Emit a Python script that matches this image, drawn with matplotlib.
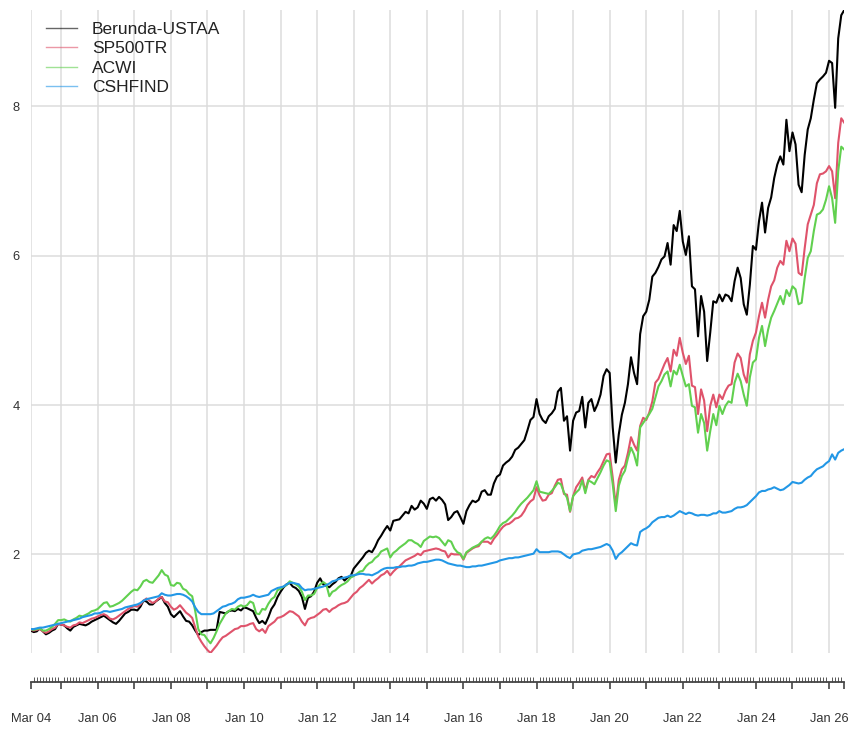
import numpy as np
import pandas as pd
import matplotlib
matplotlib.use("Agg")
import matplotlib.pyplot as plt

plt.rcParams['font.family'] = ['Liberation Sans', 'DejaVu Sans']

# monthly growth of 1, Mar 2004 .. Jun 2026 (one row per year)
berunda = [
    0.98, 0.96, 0.97, 1.01, 0.97, 0.93, 0.95, 0.98, 1.00, 1.07,
    1.06, 1.05, 1.01, 0.98, 1.03, 1.05, 1.07, 1.06, 1.05, 1.07, 1.10, 1.12,
    1.14, 1.16, 1.18, 1.15, 1.12, 1.09, 1.07, 1.11, 1.16, 1.21, 1.23, 1.26,
    1.26, 1.25, 1.30, 1.38, 1.37, 1.33, 1.33, 1.37, 1.40, 1.43, 1.35, 1.30,
    1.20, 1.16, 1.20, 1.24, 1.17, 1.11, 1.10, 1.05, 0.98, 0.92, 0.96, 0.98,
    0.98, 0.99, 0.99, 0.99, 1.23, 1.22, 1.21, 1.24, 1.25, 1.24, 1.27, 1.25,
    1.29, 1.28, 1.26, 1.24, 1.15, 1.08, 1.11, 1.07, 1.16, 1.27, 1.33, 1.43,
    1.50, 1.56, 1.60, 1.62, 1.57, 1.55, 1.51, 1.43, 1.27, 1.42, 1.44, 1.50,
    1.62, 1.68, 1.60, 1.58, 1.56, 1.60, 1.63, 1.68, 1.70, 1.65, 1.69, 1.71,
    1.81, 1.86, 1.91, 1.96, 2.02, 2.05, 2.03, 2.10, 2.19, 2.25, 2.32, 2.38,
    2.32, 2.45, 2.46, 2.47, 2.52, 2.57, 2.55, 2.65, 2.60, 2.63, 2.72, 2.68,
    2.61, 2.74, 2.76, 2.72, 2.77, 2.73, 2.67, 2.46, 2.50, 2.56, 2.58, 2.50,
    2.41, 2.58, 2.66, 2.72, 2.70, 2.73, 2.84, 2.86, 2.80, 2.80, 2.95, 3.04,
    3.07, 3.19, 3.23, 3.26, 3.31, 3.40, 3.43, 3.48, 3.53, 3.66, 3.80, 3.84,
    4.08, 3.88, 3.80, 3.76, 3.85, 3.89, 3.95, 4.18, 4.23, 3.79, 3.85, 3.39,
    3.79, 3.90, 3.92, 4.11, 3.70, 4.03, 4.08, 3.92, 4.01, 4.14, 4.39, 4.48,
    4.43, 3.70, 3.23, 3.61, 3.87, 4.03, 4.28, 4.64, 4.43, 4.28, 4.95, 5.19,
    5.25, 5.41, 5.72, 5.77, 5.85, 5.95, 5.99, 6.17, 5.88, 6.41, 6.33, 6.60,
    6.19, 6.01, 6.26, 5.59, 5.55, 4.92, 5.46, 5.25, 4.59, 4.97, 5.39, 5.37,
    5.48, 5.39, 5.48, 5.46, 5.39, 5.66, 5.84, 5.70, 5.35, 5.21, 5.61, 6.13,
    6.08, 6.46, 6.71, 6.31, 6.64, 6.78, 7.04, 7.22, 7.33, 7.22, 7.82, 7.40,
    7.65, 7.49, 6.95, 6.85, 7.35, 7.69, 7.84, 8.09, 8.31, 8.36, 8.40, 8.45,
    8.61, 8.58, 7.98, 8.91, 9.22, 9.29,
]

sp500tr = [
    0.99, 0.98, 0.99, 1.00, 0.97, 0.95, 0.97, 1.00, 1.02, 1.07,
    1.06, 1.05, 1.03, 1.02, 1.05, 1.06, 1.09, 1.08, 1.10, 1.12, 1.14, 1.15,
    1.17, 1.19, 1.20, 1.18, 1.14, 1.13, 1.15, 1.18, 1.21, 1.24, 1.27, 1.29,
    1.31, 1.30, 1.33, 1.38, 1.41, 1.38, 1.35, 1.37, 1.41, 1.43, 1.37, 1.36,
    1.30, 1.26, 1.28, 1.32, 1.27, 1.22, 1.19, 1.15, 1.02, 0.90, 0.83, 0.77,
    0.72, 0.68, 0.73, 0.78, 0.84, 0.89, 0.91, 0.94, 0.97, 1.00, 1.01, 1.04,
    1.04, 1.05, 1.07, 1.08, 1.00, 0.97, 1.00, 0.95, 1.04, 1.07, 1.10, 1.15,
    1.16, 1.18, 1.21, 1.24, 1.23, 1.20, 1.17, 1.10, 1.05, 1.13, 1.15, 1.16,
    1.19, 1.22, 1.26, 1.27, 1.23, 1.27, 1.29, 1.32, 1.34, 1.35, 1.37, 1.42,
    1.47, 1.50, 1.55, 1.58, 1.62, 1.66, 1.61, 1.65, 1.68, 1.72, 1.74, 1.78,
    1.72, 1.77, 1.81, 1.84, 1.88, 1.92, 1.94, 1.96, 1.98, 2.01, 1.99, 2.04,
    2.05, 2.06, 2.07, 2.08, 2.07, 2.05, 2.04, 1.96, 2.01, 2.00, 2.00, 2.00,
    1.93, 2.02, 2.05, 2.08, 2.10, 2.11, 2.17, 2.17, 2.17, 2.14, 2.21, 2.26,
    2.32, 2.37, 2.40, 2.41, 2.44, 2.48, 2.49, 2.52, 2.58, 2.66, 2.71, 2.74,
    2.90, 2.79, 2.72, 2.73, 2.80, 2.82, 2.92, 3.00, 3.01, 2.81, 2.80, 2.57,
    2.78, 2.90, 2.96, 3.03, 2.85, 3.00, 3.05, 3.03, 3.10, 3.16, 3.25, 3.34,
    3.35, 3.03, 2.65, 3.00, 3.14, 3.19, 3.36, 3.57, 3.47, 3.39, 3.72, 3.83,
    3.80, 3.90, 4.05, 4.30, 4.35, 4.45, 4.55, 4.63, 4.45, 4.74, 4.66, 4.90,
    4.70, 4.55, 4.66, 4.26, 4.24, 3.88, 4.21, 4.06, 3.65, 3.99, 4.14, 3.97,
    4.14, 4.08, 4.19, 4.26, 4.28, 4.57, 4.69, 4.63, 4.41, 4.30, 4.68, 4.86,
    4.97, 5.19, 5.37, 5.17, 5.41, 5.59, 5.67, 5.84, 5.93, 5.88, 6.20, 6.06,
    6.23, 6.16, 5.77, 5.74, 6.10, 6.42, 6.55, 6.68, 6.97, 7.09, 7.10, 7.13,
    7.20, 7.13, 6.77, 7.51, 7.84, 7.78,
]

acwi = [
    1.00, 0.99, 1.00, 1.01, 0.98, 0.98, 1.00, 1.03, 1.07, 1.12,
    1.12, 1.13, 1.11, 1.10, 1.13, 1.15, 1.18, 1.17, 1.19, 1.21, 1.24, 1.25,
    1.27, 1.31, 1.35, 1.36, 1.30, 1.31, 1.33, 1.35, 1.38, 1.42, 1.46, 1.50,
    1.53, 1.52, 1.57, 1.64, 1.66, 1.63, 1.62, 1.67, 1.72, 1.79, 1.73, 1.71,
    1.59, 1.58, 1.62, 1.61, 1.54, 1.52, 1.47, 1.44, 1.24, 1.00, 0.93, 0.92,
    0.86, 0.81, 0.88, 0.97, 1.07, 1.14, 1.21, 1.24, 1.27, 1.26, 1.30, 1.32,
    1.30, 1.32, 1.37, 1.35, 1.21, 1.20, 1.27, 1.26, 1.34, 1.40, 1.43, 1.52,
    1.54, 1.57, 1.59, 1.64, 1.62, 1.60, 1.57, 1.50, 1.39, 1.45, 1.45, 1.47,
    1.55, 1.60, 1.63, 1.60, 1.44, 1.50, 1.52, 1.56, 1.59, 1.61, 1.64, 1.69,
    1.71, 1.74, 1.77, 1.78, 1.84, 1.88, 1.90, 1.95, 1.98, 2.04, 2.06, 2.08,
    1.96, 2.02, 2.05, 2.09, 2.12, 2.15, 2.19, 2.19, 2.16, 2.14, 2.10, 2.18,
    2.21, 2.24, 2.23, 2.24, 2.22, 2.17, 2.12, 2.19, 2.17, 2.08, 2.03, 2.01,
    1.94, 2.03, 2.06, 2.09, 2.11, 2.13, 2.17, 2.21, 2.23, 2.21, 2.25, 2.31,
    2.38, 2.42, 2.44, 2.48, 2.52, 2.57, 2.63, 2.68, 2.72, 2.76, 2.81, 2.86,
    2.98, 2.84, 2.83, 2.82, 2.81, 2.85, 2.90, 2.96, 2.94, 2.83, 2.76, 2.58,
    2.78, 2.83, 2.87, 2.99, 2.82, 2.99, 2.97, 2.94, 3.02, 3.10, 3.19, 3.26,
    3.24, 2.94, 2.58, 2.92, 3.05, 3.12, 3.29, 3.43, 3.34, 3.19, 3.70, 3.76,
    3.82, 3.88, 3.95, 4.10, 4.25, 4.32, 4.41, 4.45, 4.25, 4.46, 4.41, 4.54,
    4.39, 4.25, 4.28, 3.99, 3.97, 3.63, 3.88, 3.76, 3.39, 3.65, 3.88, 3.73,
    3.99, 3.88, 3.99, 4.05, 4.03, 4.30, 4.42, 4.32, 4.14, 3.99, 4.37, 4.57,
    4.61, 4.90, 5.06, 4.79, 5.01, 5.17, 5.26, 5.36, 5.46, 5.35, 5.54, 5.46,
    5.59, 5.55, 5.35, 5.37, 5.70, 5.97, 6.06, 6.33, 6.55, 6.57, 6.62, 6.75,
    6.93, 6.77, 6.44, 7.13, 7.46, 7.42,
]

cshfind = [
    1.00, 1.00, 1.01, 1.02, 1.02, 1.03, 1.04, 1.05, 1.06, 1.07,
    1.08, 1.09, 1.10, 1.11, 1.12, 1.13, 1.14, 1.16, 1.17, 1.18, 1.19, 1.21,
    1.21, 1.22, 1.24, 1.24, 1.23, 1.24, 1.25, 1.26, 1.27, 1.29, 1.30, 1.31,
    1.32, 1.33, 1.35, 1.38, 1.40, 1.41, 1.42, 1.43, 1.44, 1.48, 1.46, 1.45,
    1.45, 1.46, 1.47, 1.47, 1.46, 1.44, 1.41, 1.37, 1.29, 1.23, 1.20, 1.20,
    1.20, 1.20, 1.21, 1.24, 1.27, 1.30, 1.31, 1.33, 1.34, 1.36, 1.40, 1.42,
    1.42, 1.43, 1.44, 1.46, 1.44, 1.43, 1.44, 1.45, 1.46, 1.51, 1.53, 1.55,
    1.56, 1.57, 1.60, 1.62, 1.62, 1.61, 1.60, 1.55, 1.52, 1.53, 1.53, 1.54,
    1.55, 1.56, 1.57, 1.59, 1.61, 1.64, 1.65, 1.67, 1.68, 1.69, 1.70, 1.72,
    1.72, 1.73, 1.74, 1.74, 1.73, 1.73, 1.72, 1.74, 1.76, 1.79, 1.81, 1.82,
    1.82, 1.82, 1.83, 1.83, 1.84, 1.84, 1.85, 1.85, 1.86, 1.88, 1.89, 1.90,
    1.90, 1.91, 1.92, 1.93, 1.93, 1.92, 1.90, 1.88, 1.87, 1.86, 1.85, 1.85,
    1.84, 1.83, 1.83, 1.84, 1.84, 1.85, 1.85, 1.86, 1.87, 1.88, 1.89, 1.90,
    1.92, 1.93, 1.94, 1.95, 1.95, 1.96, 1.96, 1.97, 1.98, 1.99, 2.00, 2.01,
    2.07, 2.03, 2.03, 2.03, 2.03, 2.04, 2.04, 2.04, 2.03, 2.00, 1.97, 1.95,
    2.00, 2.01, 2.02, 2.05, 2.06, 2.07, 2.07, 2.08, 2.09, 2.10, 2.12, 2.14,
    2.12, 2.05, 1.94, 2.00, 2.03, 2.07, 2.11, 2.15, 2.13, 2.12, 2.30, 2.33,
    2.35, 2.38, 2.43, 2.46, 2.49, 2.50, 2.50, 2.52, 2.50, 2.52, 2.55, 2.58,
    2.56, 2.54, 2.56, 2.55, 2.53, 2.52, 2.53, 2.53, 2.52, 2.53, 2.55, 2.55,
    2.58, 2.56, 2.56, 2.57, 2.58, 2.61, 2.63, 2.63, 2.64, 2.66, 2.70, 2.74,
    2.78, 2.83, 2.85, 2.85, 2.87, 2.88, 2.90, 2.88, 2.86, 2.87, 2.90, 2.93,
    2.97, 2.96, 2.95, 2.96, 3.00, 3.03, 3.05, 3.10, 3.14, 3.16, 3.18, 3.22,
    3.25, 3.34, 3.27, 3.36, 3.39, 3.41,
]

series_names = ['Berunda-USTAA', 'SP500TR', 'ACWI', 'CSHFIND']
series_colors = ['#000000', '#DF536B', '#61D04F', '#2297E6']
y_ticks = [2, 4, 6, 8]

dates = pd.date_range('2004-03-01', periods=len(berunda), freq='MS')
x = np.arange(len(dates))
all_series = [berunda, sp500tr, acwi, cshfind]

fig = plt.figure(figsize=(8.65, 7.34), dpi=100)
ax = fig.add_axes([30.7 / 865, 1 - 653 / 734, (844.3 - 30.7) / 865, 643 / 734])

for vals, name, col in zip(all_series, series_names, series_colors):
    ax.plot(x, vals, color=col, lw=1.5, label=name, zorder=3)

# xts-like axis: major tick at start, each January and the end
year_starts = [i for i, d in enumerate(dates) if d.month == 1]
major = [0] + year_starts + [len(x) - 1]
labels = []
for i in major:
    d = dates[i]
    if i == 0:
        labels.append(d.strftime('%b %y'))
    elif d.month == 1 and d.year % 2 == 0:
        labels.append(d.strftime('%b %y'))
    else:
        labels.append('')
ax.set_xticks(major)
ax.set_xticklabels(labels)
ax.set_xticks(x, minor=True)

lo = min(min(s) for s in all_series)
hi = max(max(s) for s in all_series)
ax.set_xlim(0, len(x) - 1)
ax.set_ylim(lo, hi)
ax.set_yticks(y_ticks)

for v in [0] + year_starts:
    ax.axvline(v, color='#dcdcdc', lw=1.1, zorder=1)
for v in y_ticks:
    ax.axhline(v, color='#dcdcdc', lw=1.1, zorder=1)

for s in ['top', 'right', 'left']:
    ax.spines[s].set_visible(False)
ax.spines['bottom'].set_position(('outward', 21))
ax.spines['bottom'].set_color('#444444')
ax.spines['bottom'].set_linewidth(1.3)

ax.tick_params(axis='x', which='major', direction='out', length=5, width=1.2,
               color='#444444', labelsize=9.3, labelcolor='#333333', pad=17)
ax.tick_params(axis='x', which='minor', direction='in', length=3.6, width=0.7,
               color='#555555')
ax.tick_params(axis='y', length=0, labelsize=9.3, labelcolor='#333333', pad=8)

leg = ax.legend(loc='upper left', bbox_to_anchor=(46 / 865, 1 - 22 / 734),
                bbox_transform=fig.transFigure, frameon=False, fontsize=12.5,
                handlelength=1.8, handletextpad=0.85, labelspacing=0.24,
                borderpad=0, borderaxespad=0)
for h in leg.get_lines():
    h.set_linewidth(1.0)
    h.set_alpha(0.6)
for t in leg.get_texts():
    t.set_color('#222222')

fig.savefig('out.png', dpi=100)
